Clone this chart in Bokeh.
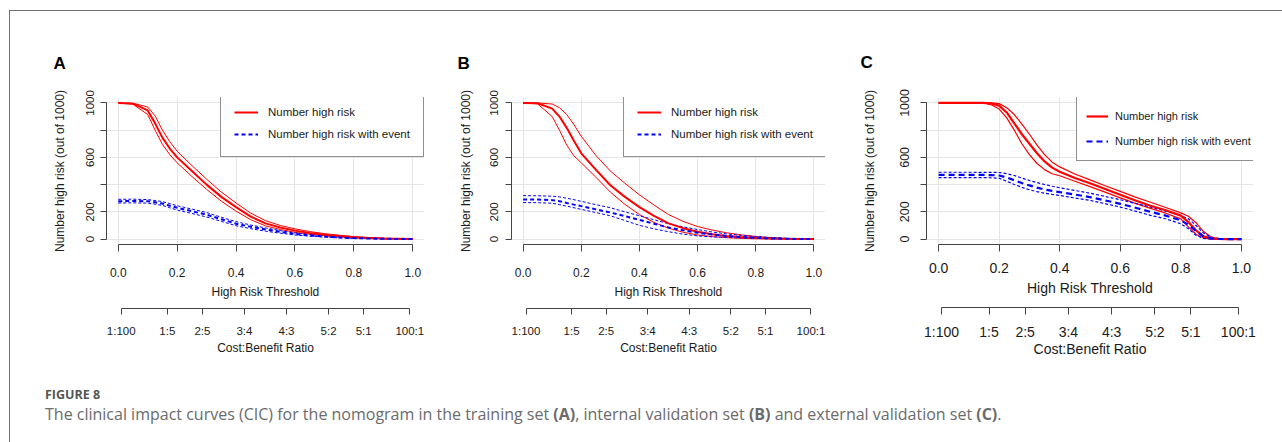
from bokeh.plotting import figure
from bokeh.models import (LinearAxis, FixedTicker, Legend, LegendItem, Div, Range1d,
                          NumeralTickFormatter)
from bokeh.layouts import row, column
from bokeh.embed import file_html
from bokeh.resources import INLINE

# ---------------- data ----------------
THRESH_AB = [0, 0.05, 0.1, 0.125, 0.15, 0.175, 0.2, 0.25, 0.3, 0.35, 0.4, 0.45,
             0.5, 0.55, 0.6, 0.65, 0.7, 0.75, 0.8, 0.85, 0.9, 0.95, 1.0]

A_RISK    = [1000, 995, 945, 850, 745, 665, 600, 500, 400, 310, 235, 165, 115, 85, 62, 45, 32, 22, 14, 8, 4, 2, 0]
A_RISK_HI = [1000, 998, 970, 905, 800, 715, 645, 540, 440, 345, 265, 190, 135, 100, 75, 55, 40, 28, 18, 11, 6, 3, 0]
A_RISK_LO = [1000, 990, 915, 800, 695, 620, 560, 460, 365, 278, 205, 142, 97, 70, 50, 36, 25, 16, 10, 6, 3, 1, 0]
A_EVENT    = [278, 280, 278, 270, 261, 245, 230, 205, 179, 146, 113, 90, 71, 53, 38, 27, 19, 12, 7, 4, 2, 1, 0]
A_EVENT_HI = [292, 293, 290, 283, 275, 260, 245, 220, 195, 160, 128, 103, 82, 62, 45, 33, 24, 16, 10, 6, 3, 1, 0]
A_EVENT_LO = [265, 266, 264, 256, 247, 230, 213, 188, 162, 130, 98, 76, 58, 43, 30, 21, 14, 9, 5, 3, 1, 0, 0]

B_RISK    = [1000, 998, 958, 900, 817, 720, 630, 510, 395, 310, 235, 170, 115, 80, 54, 36, 23, 15, 9, 5, 2, 1, 0]
B_RISK_HI = [1000, 1000, 992, 965, 915, 840, 755, 615, 500, 410, 325, 250, 180, 130, 92, 66, 46, 31, 19, 11, 5, 2, 0]
B_RISK_LO = [1000, 993, 900, 800, 690, 610, 560, 455, 345, 255, 180, 122, 80, 50, 30, 18, 10, 5, 2, 1, 0, 0, 0]
B_EVENT    = [291, 290, 286, 278, 265, 253, 242, 218, 195, 168, 141, 112, 85, 64, 47, 33, 23, 15, 9, 5, 2, 1, 0]
B_EVENT_HI = [319, 318, 315, 310, 300, 289, 277, 253, 230, 200, 171, 142, 113, 90, 70, 52, 38, 27, 19, 12, 7, 3, 0]
B_EVENT_LO = [268, 267, 263, 253, 242, 230, 218, 195, 171, 136, 101, 75, 54, 36, 23, 16, 12, 8, 5, 2, 0, 0, 0]

THRESH_C = [0, 0.05, 0.1, 0.15, 0.175, 0.2, 0.225, 0.25, 0.275, 0.3, 0.325, 0.35, 0.375, 0.4,
            0.45, 0.5, 0.55, 0.6, 0.65, 0.7, 0.75, 0.8, 0.825, 0.85, 0.875, 0.9, 0.925, 0.95, 1.0]
C_RISK    = [1000, 1000, 1000, 1000, 995, 980, 930, 850, 770, 700, 630, 570, 525, 495,
             448, 410, 368, 325, 283, 245, 212, 172, 125, 64, 20, 5, 1, 0, 0]
C_RISK_HI = [1000, 1000, 1000, 1000, 1000, 995, 965, 915, 845, 770, 690, 620, 565, 530,
             478, 435, 392, 350, 308, 270, 232, 192, 168, 120, 55, 15, 2, 0, 0]
C_RISK_LO = [1000, 1000, 1000, 1000, 985, 955, 890, 800, 700, 620, 555, 510, 480, 465,
             425, 385, 345, 303, 262, 225, 190, 148, 90, 35, 8, 0, 0, 0, 0]
C_EVENT    = [472, 472, 472, 471, 470, 467, 452, 432, 412, 394, 378, 364, 354, 345,
              327, 308, 284, 259, 230, 200, 172, 137, 105, 59, 20, 5, 1, 0, 0]
C_EVENT_HI = [491, 491, 491, 490, 490, 489, 480, 467, 448, 430, 415, 401, 388, 377,
              357, 337, 313, 289, 262, 235, 205, 174, 149, 100, 44, 15, 2, 0, 0]
C_EVENT_LO = [452, 452, 452, 451, 450, 447, 425, 401, 380, 362, 348, 337, 328, 320,
              302, 284, 260, 235, 205, 174, 149, 112, 76, 27, 5, 0, 0, 0, 0]

X_TICKS = [0.0, 0.2, 0.4, 0.6, 0.8, 1.0]
Y_TICKS = [0, 200, 400, 600, 800, 1000]
Y_TICK_LABELS = ["0", "200", "", "600", "", "1000"]
CB_COST = [1, 1, 2, 3, 4, 5, 5, 100]
CB_BENEFIT = [100, 5, 5, 4, 3, 2, 1, 1]
CB_LABELS = ["1:100", "1:5", "2:5", "3:4", "4:3", "5:2", "5:1", "100:1"]

FONT = "Liberation Sans"
TXT = "#1a1a1a"
AXC = "#444444"


def style_axis(ax, lab_fs, title_fs, tick_out, lab_sd, title_sd):
    ax.axis_line_color = AXC
    ax.major_tick_line_color = AXC
    ax.minor_tick_line_color = None
    ax.major_tick_out = tick_out
    ax.major_tick_in = 0
    ax.major_label_text_font = FONT
    ax.major_label_text_font_size = lab_fs
    ax.major_label_text_color = TXT
    ax.major_label_standoff = lab_sd
    ax.axis_label_text_font = FONT
    ax.axis_label_text_font_size = title_fs
    ax.axis_label_text_font_style = "normal"
    ax.axis_label_text_color = TXT
    ax.axis_label_standoff = title_sd


def make_panel(letter, t, risk, risk_hi, risk_lo, ev, ev_hi, ev_lo, g):
    p = figure(width=g["w"], height=g["h"], x_range=Range1d(-0.04, 1.04),
               y_range=Range1d(-40, 1040), output_backend="svg", toolbar_location=None,
               title=letter, min_border_left=g["ml"], min_border_right=g["mr"],
               min_border_top=g["mt"], min_border_bottom=g["mb"])
    p.outline_line_color = None
    p.background_fill_color = "white"
    p.border_fill_color = "white"

    p.title.align = "left"
    p.title.offset = g["t_off"]
    p.title.standoff = g["t_sd"]
    p.title.text_font = FONT
    p.title.text_font_size = "17px"
    p.title.text_font_style = "bold"
    p.title.text_color = "#000000"

    # grids
    p.xgrid.ticker = FixedTicker(ticks=X_TICKS)
    p.ygrid.ticker = FixedTicker(ticks=Y_TICKS)
    for gr in (p.xgrid, p.ygrid):
        gr.grid_line_color = "#e6e6e6"
        gr.grid_line_width = 1

    # threshold axis
    xa = p.xaxis[0]
    xa.ticker = FixedTicker(ticks=X_TICKS)
    xa.formatter = NumeralTickFormatter(format="0.0")
    xa.bounds = (0, 1)
    xa.axis_label = "High Risk Threshold"
    style_axis(xa, g["xfs"], g["xtfs"], g["x_to"], g["x_lsd"], g["x_tsd"])

    # y axis
    ya = p.yaxis[0]
    ya.ticker = FixedTicker(ticks=Y_TICKS)
    ya.major_label_overrides = {k: v for k, v in zip(Y_TICKS, Y_TICK_LABELS)}
    ya.bounds = (0, 1000)
    ya.major_label_orientation = "vertical"
    ya.axis_label = "Number high risk (out of 1000)"
    style_axis(ya, g["yfs"], g["ytfs"], g["y_to"], g["y_lsd"], g["y_tsd"])

    # spacer axis: one white (invisible) tick whose length separates the two bottom axes
    sp = LinearAxis(ticker=FixedTicker(ticks=[0.5]), axis_line_color=None,
                    major_tick_line_color="white", minor_tick_line_color=None,
                    major_tick_out=g["gap"], major_tick_in=0,
                    major_label_overrides={0.5: ""}, major_label_text_color=None,
                    major_label_text_font_size="1px", major_label_standoff=0)
    p.add_layout(sp, "below")

    # cost:benefit axis
    cb_pos = [c / (c + b) for c, b in zip(CB_COST, CB_BENEFIT)]
    cb = LinearAxis(ticker=FixedTicker(ticks=cb_pos),
                    major_label_overrides={k: v for k, v in zip(cb_pos, CB_LABELS)},
                    bounds=(cb_pos[0], cb_pos[-1]), axis_label="Cost:Benefit Ratio")
    style_axis(cb, g["cbfs"], g["cbtfs"], g["cb_to"], g["cb_lsd"], g["cb_tsd"])
    p.add_layout(cb, "below")

    red, blue = "#ff0000", "#0000ff"
    p.line(t, risk_hi, line_color=red, line_width=g["thin"])
    p.line(t, risk_lo, line_color=red, line_width=g["thin"])
    p.line(t, ev_hi, line_color=blue, line_width=g["thin"], line_dash=g["dash_thin"])
    p.line(t, ev_lo, line_color=blue, line_width=g["thin"], line_dash=g["dash_thin"])
    r_risk = p.line(t, risk, line_color=red, line_width=g["thick"])
    r_ev = p.line(t, ev, line_color=blue, line_width=g["thick"], line_dash=g["dash_thick"])

    leg = Legend(items=[LegendItem(label="Number high risk", renderers=[r_risk]),
                        LegendItem(label="Number high risk with event", renderers=[r_ev])],
                 location=(g["lx"], g["ly"]), orientation="vertical")
    leg.margin = 0
    leg.padding = g["lpad"]
    leg.spacing = g["lsp"]
    leg.glyph_width = g["lgw"]
    leg.glyph_height = g["lih"]
    leg.label_height = g["lih"]
    leg.label_standoff = g["lsd"]
    leg.label_text_font = FONT
    leg.label_text_font_size = g["lfs"]
    leg.label_text_color = TXT
    leg.border_line_color = "#222222"
    leg.border_line_width = g["lbw"]
    leg.background_fill_color = "white"
    leg.background_fill_alpha = 1.0
    p.add_layout(leg, "center")
    return p


gA = dict(w=430, h=354, ml=96, mr=16, mt=84, mb=117, t_off=-53, t_sd=50,
          xfs="12px", xtfs="12px", x_to=7, x_lsd=16, x_tsd=5, gap=7,
          cbfs="11.5px", cbtfs="12px", cb_to=6, cb_lsd=10, cb_tsd=1,
          yfs="11.5px", ytfs="12px", y_to=6, y_lsd=6, y_tsd=17,
          thin=1, thick=2, dash_thin="3 2", dash_thick="4 3",
          lx=114, ly=87, lpad=13, lsp=4, lgw=24, lih=18, lsd=10, lfs="11.5px", lbw=1)
gB = dict(gA, w=400, ml=71, mr=15, t_off=-54, lx=112, y_tsd=15, y_lsd=7)
gC = dict(w=442, h=354, ml=86, mr=29, mt=86, mb=121, t_off=-66, t_sd=52,
          xfs="14px", xtfs="14px", x_to=7, x_lsd=11, x_tsd=4, gap=9,
          cbfs="14px", cbtfs="14px", cb_to=7, cb_lsd=9, cb_tsd=-2,
          yfs="12.5px", ytfs="12px", y_to=6, y_lsd=11, y_tsd=21,
          thin=1.2, thick=2.2, dash_thin="3 2", dash_thick="6 4",
          lx=150, ly=83, lpad=9, lsp=5, lgw=22, lih=20, lsd=7, lfs="11px", lbw=1.6)

pA = make_panel("A", THRESH_AB, A_RISK, A_RISK_HI, A_RISK_LO, A_EVENT, A_EVENT_HI, A_EVENT_LO, gA)
pB = make_panel("B", THRESH_AB, B_RISK, B_RISK_HI, B_RISK_LO, B_EVENT, B_EVENT_HI, B_EVENT_LO, gB)
pC = make_panel("C", THRESH_C, C_RISK, C_RISK_HI, C_RISK_LO, C_EVENT, C_EVENT_HI, C_EVENT_LO, gC)

caption_html = (
    '<div style="padding-left:30px;padding-top:17px;font-family:\'Open Sans\', sans-serif;">'
    '<div style="font-size:12.5px;font-weight:700;line-height:16px;color:#555555;">FIGURE 8</div>'
    '<div style="font-size:16px;line-height:22px;color:#6b6b6b;font-weight:400;">'
    'The clinical impact curves (CIC) for the nomogram in the training set <b>(A)</b>, '
    'internal validation set <b>(B)</b> and external validation set <b>(C)</b>.</div></div>'
)
cap = Div(text=caption_html, width=1272, height=77)

root = column(row(pA, pB, pC), cap, margin=(10, 0, 0, 9),
              styles={"border-left": "1px solid #707070", "border-top": "1px solid #707070"})

open("out.html", "w").write(file_html(root, INLINE))
